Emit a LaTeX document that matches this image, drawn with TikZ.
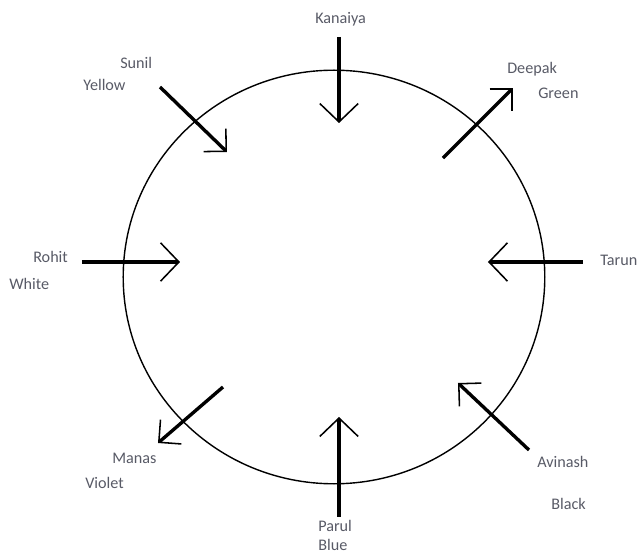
\documentclass[tikz,border=0pt]{standalone}
\usepackage{fontspec}
\setmainfont{Carlito}
\usetikzlibrary{arrows.meta}
\definecolor{labelgray}{RGB}{88,90,102}
\begin{document}
\begin{tikzpicture}[
    shaft/.style={line width=2.4pt},
    barbhead/.style={-{Straight Barb[line width=1.1pt,length=4mm,width=8mm]}},
    widehead/.style={-{Straight Barb[line width=1.1pt,length=4.6mm,width=9.6mm]}},
    personlabel/.style={anchor=mid west,inner sep=0pt,text=labelgray,font=\fontsize{11.5}{14}\selectfont}]
        \useasboundingbox (-8.35,-6.9) rectangle (7.6,6.925);
        \draw[line width=1pt] (0,0) ellipse [x radius=5.27,y radius=5.17];
        % straight in/out arrows
        \draw[shaft,widehead] (0.125,6)--++(0,-2.15);
        \draw[shaft,widehead] (0.125,-6)--++(0,2.5);
        \draw[shaft,widehead] (-6.3,0.375)--++(2.45,0);
        \draw[shaft,widehead] (6.225,0.375)--++(-2.375,0);
        % slanted arrows
        \draw[shaft,barbhead] (-4.35,4.75)--++(1.675,-1.625);
        \draw[shaft,barbhead] (2.725,2.975)--++(1.75,1.75);
        \draw[shaft,barbhead] (-2.775,-2.75)--++(-1.625,-1.4);
        \draw[shaft,barbhead] (4.875,-4.325)--++(-1.775,1.675);
        % names and colours
        \node[personlabel] (kanaiya) at (-0.475,6.425) {Kanaiya};
        \node[personlabel] (sunil) at (-5.35,5.3) {Sunil};
        \node[personlabel] (yellow) at (-6.275,4.75) {Yellow};
        \node[personlabel] (deepak) at (4.325,5.175) {Deepak};
        \node[personlabel] (green) at (5.1,4.55) {Green};
        \node[personlabel] (rohit) at (-7.525,0.45) {Rohit};
        \node[personlabel] (white) at (-8.125,-0.225) {White};
        \node[personlabel] (tarun) at (6.65,0.375) {Tarun};
        \node[personlabel] (manas) at (-5.55,-4.575) {Manas};
        \node[personlabel] (violet) at (-6.225,-5.2) {Violet};
        \node[personlabel] (avinash) at (5.075,-4.675) {Avinash};
        \node[personlabel] (black) at (5.425,-5.725) {Black};
        \node[personlabel] (parul) at (-0.4,-6.275) {Parul};
        \node[personlabel] (blue) at (-0.4,-6.75) {Blue};
    \end{tikzpicture}
\end{document}
